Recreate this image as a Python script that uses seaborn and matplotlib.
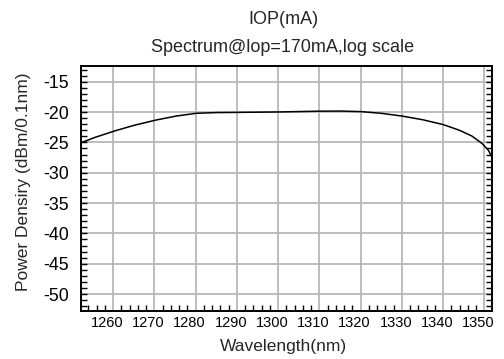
import numpy as np
import pandas as pd
import matplotlib
matplotlib.use("Agg")
import matplotlib.pyplot as plt
import matplotlib.transforms as mtransforms
from matplotlib.ticker import MultipleLocator
import seaborn as sns

# data
wavelength = [1252.2, 1255.6, 1260.5, 1265.3, 1270.4, 1275.3, 1280.1, 1285.0,
              1290.1, 1300.0, 1309.9, 1315.0, 1320.1, 1325.0, 1330.0, 1335.0,
              1340.0, 1344.0, 1347.0, 1349.5, 1351.0, 1351.8]
power = [-25.05, -24.17, -23.08, -22.14, -21.31, -20.65, -20.20, -20.08,
         -20.05, -19.98, -19.85, -19.83, -19.92, -20.20, -20.65, -21.25,
         -22.05, -23.00, -23.95, -25.20, -26.30, -27.36]
x_ticks = [1260, 1270, 1280, 1290, 1300, 1310, 1320, 1330, 1340, 1350]
y_ticks = [-50, -45, -40, -35, -30, -25, -20, -15]

df = pd.DataFrame({"Wavelength": wavelength, "Power": power})

sns.set_theme(style="white")
plt.rcParams["font.family"] = ["Liberation Sans", "DejaVu Sans"]
plt.rcParams["axes.unicode_minus"] = False

fig = plt.figure(figsize=(5.04, 3.59), dpi=100)
ax = fig.add_axes([81 / 504, 1 - 310.7 / 359, (491.7 - 81) / 504, (310.7 - 66) / 359])

sns.lineplot(data=df, x="Wavelength", y="Power", color="black", lw=1.1, ax=ax)

ax.set_xlim(1252.2, 1351.8)
ax.set_ylim(-52.75, -12.4)
ax.set_xticks(x_ticks)
ax.set_yticks(y_ticks)
ax.xaxis.set_minor_locator(MultipleLocator(2))
ax.yaxis.set_minor_locator(MultipleLocator(1))
ax.grid(True, which="major", color="#b8b8b8", lw=1.3)
ax.set_axisbelow(True)

for s in ax.spines.values():
    s.set_color("black")
    s.set_linewidth(1.4)

ax.tick_params(axis="x", which="major", length=0, pad=4, labelsize=10.5, colors="black")
ax.tick_params(axis="x", which="minor", direction="in", length=4, width=1, bottom=True, top=False, color="black")
ax.tick_params(axis="y", which="both", direction="in", length=4, width=1, left=True, right=True, color="black")
ax.tick_params(axis="y", which="major", pad=8.5, labelsize=12.8, labelcolor="black")

offset = mtransforms.ScaledTranslation(-6 / 100, 0, fig.dpi_scale_trans)
for lbl in ax.get_xticklabels():
    lbl.set_transform(lbl.get_transform() + offset)

ax.set_xlabel("")
ax.set_ylabel("")
fig.text(283 / 504, 1 - 346 / 359, "Wavelength(nm)", ha="center", va="center", fontsize=12.5)
fig.text(24 / 504, 1 - 182 / 359, "Power Densiry (dBm/0.1nm)", ha="center", va="center",
         rotation=90, fontsize=12.5)
fig.text(283 / 504, 1 - 20 / 359, "IOP(mA)", ha="center", va="center", fontsize=13)
fig.text(283 / 504, 1 - 47 / 359, "Spectrum@lop=170mA,log scale", ha="center", va="center", fontsize=13)

fig.savefig("out.png", dpi=100)
